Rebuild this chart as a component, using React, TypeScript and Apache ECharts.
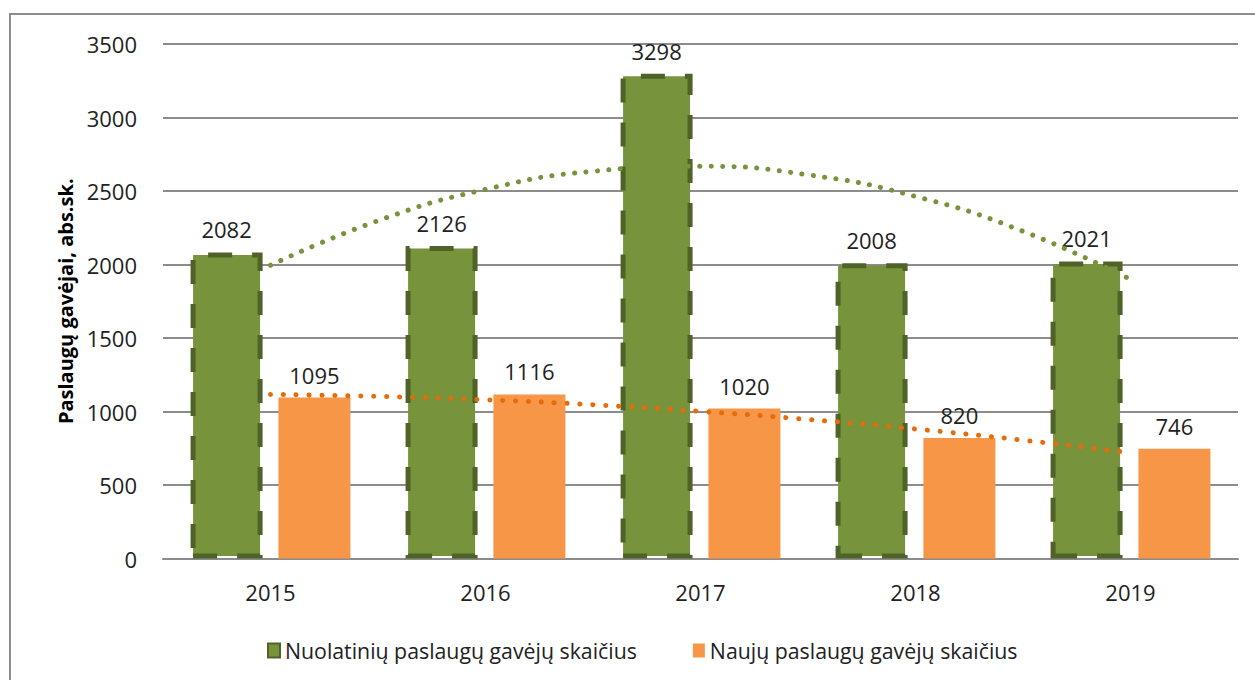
import React, { useEffect, useRef } from "react";
import * as echarts from "echarts";

const categories = ["2015", "2016", "2017", "2018", "2019"];
const ongoingName = "Nuolatinių paslaugų gavėjų skaičius";
const newName = "Naujų paslaugų gavėjų skaičius";
const ongoingValues = [2082, 2126, 3298, 2008, 2021];
const newValues = [1095, 1116, 1020, 820, 746];
// trendline readings at category positions (1 = 2015 ... 5 = 2019)
const trendX = [1, 1.5, 2, 2.5, 3, 3.5, 4, 4.5, 5];
const ongoingTrend = [1995, 2298, 2511, 2634, 2668, 2610, 2463, 2226, 1898];
const newTrend = [1116, 1103, 1080, 1046, 1001, 946, 881, 805, 719];
const yTicks = { min: 0, max: 3500, interval: 500 };

const FONT = "Open Sans";

export default function App() {
  const ref = useRef<HTMLDivElement>(null);
  useEffect(() => {
    if (!ref.current) return;
    const chart = echarts.init(ref.current, undefined, { renderer: "svg" });
    const labelStyle = {
      show: true,
      position: "top",
      distance: 12,
      fontSize: 22,
      fontFamily: FONT,
      color: "#222",
    };
    chart.setOption({
      animation: false,
      backgroundColor: "#fff",
      textStyle: { fontFamily: FONT },
      graphic: [
        {
          type: "polyline",
          shape: { points: [[10, 700], [10, 14], [1260, 14]] },
          style: { stroke: "#8c8c8c", lineWidth: 2, fill: "none" },
          silent: true,
        },
      ],
      grid: { left: 163, right: 17, top: 44, bottom: 121.5, containLabel: false },
      legend: {
        left: 262,
        top: 635,
        itemGap: 56,
        itemWidth: 12,
        itemHeight: 14,
        icon: "rect",
        textStyle: { fontSize: 21.3, fontFamily: FONT, color: "#222" },
        data: [
          { name: ongoingName, itemStyle: { color: "#77933C", borderColor: "#4F6228", borderWidth: 2, borderType: "solid" } },
          { name: newName, itemStyle: { color: "#F79646", borderWidth: 0 } },
        ],
      },
      xAxis: [
        {
          type: "category",
          data: categories,
          axisTick: { show: false },
          axisLine: { lineStyle: { color: "#8c8c8c", width: 2 } },
          axisLabel: { fontSize: 22, fontFamily: FONT, color: "#222", margin: 22 },
        },
        {
          type: "value",
          min: 0.5,
          max: 5.5,
          show: false,
        },
      ],
      yAxis: {
        type: "value",
        min: yTicks.min,
        max: yTicks.max,
        interval: yTicks.interval,
        name: "Paslaugų gavėjai, abs.sk.",
        nameLocation: "middle",
        nameGap: 87,
        nameTextStyle: { fontSize: 20, fontWeight: "bold", fontFamily: FONT, color: "#000" },
        axisLine: { show: false },
        axisTick: { show: false },
        axisLabel: {
          fontSize: 22,
          fontFamily: FONT,
          color: "#222",
          margin: 26,
          formatter: (v: number) => String(v),
        },
        splitLine: { lineStyle: { color: "#8c8c8c", width: 2 } },
      },
      series: [
        {
          name: ongoingName,
          type: "bar",
          data: ongoingValues,
          barWidth: 72,
          barGap: "22%",
          itemStyle: {
            color: "#77933C",
            borderColor: "#4F6228",
            borderWidth: 5,
            borderType: [24, 20],
          },
          label: labelStyle,
        },
        {
          name: newName,
          type: "bar",
          data: newValues,
          barWidth: 72,
          barGap: "22%",
          itemStyle: { color: "#F79646" },
          label: labelStyle,
        },
        {
          name: "ongoingTrend",
          type: "line",
          xAxisIndex: 1,
          data: trendX.map((x, i) => [x, ongoingTrend[i]]),
          smooth: true,
          showSymbol: false,
          symbol: "none",
          silent: true,
          z: 5,
          lineStyle: { color: "#77933C", width: 5, type: [0.1, 11.3], cap: "round" },
        },
        {
          name: "newTrend",
          type: "line",
          xAxisIndex: 1,
          data: trendX.map((x, i) => [x, newTrend[i]]),
          smooth: true,
          showSymbol: false,
          symbol: "none",
          silent: true,
          z: 5,
          lineStyle: { color: "#E46C0A", width: 5, type: [0.1, 12.8], cap: "round" },
        },
      ],
    });
    return () => chart.dispose();
  }, []);
  return (
    <div
      ref={ref}
      style={{ position: "fixed", left: 0, top: 0, width: 1255, height: 680 }}
    />
  );
}
